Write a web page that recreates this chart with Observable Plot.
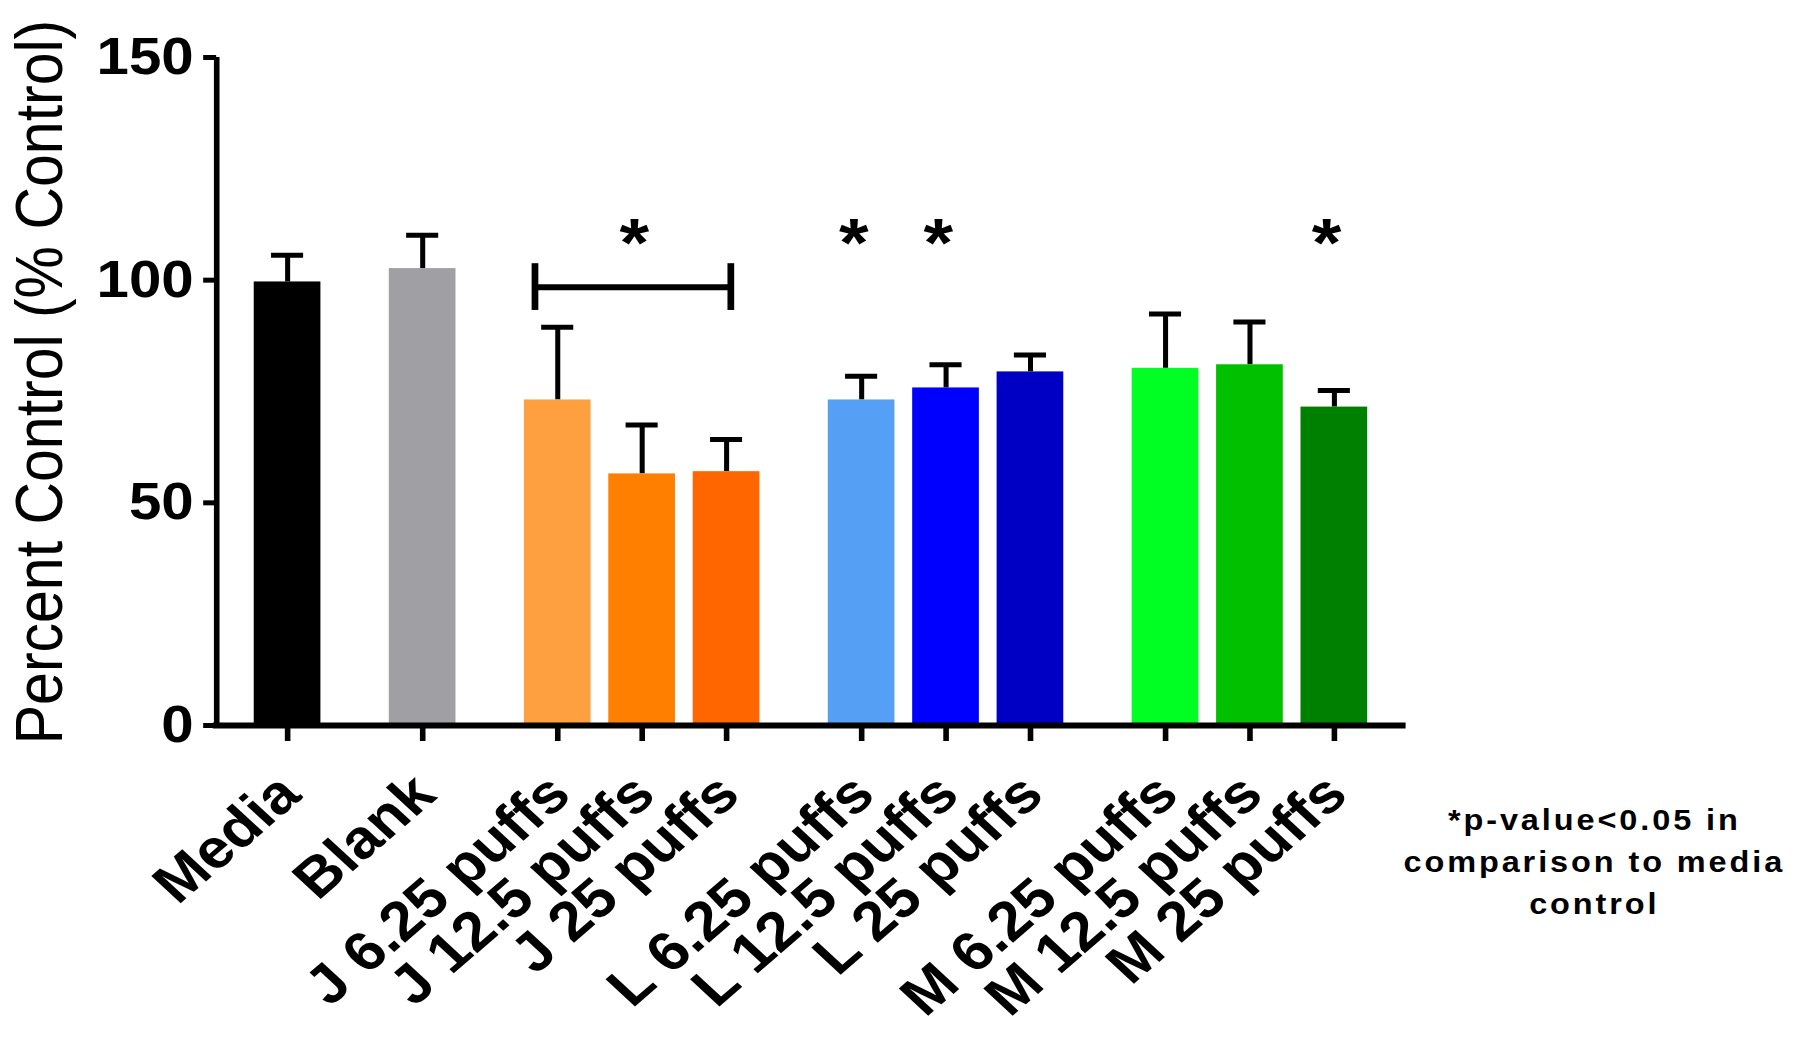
<!DOCTYPE html>
<html><head><meta charset="utf-8">
<script src="https://cdn.jsdelivr.net/npm/d3@7"></script>
<script src="https://cdn.jsdelivr.net/npm/@observablehq/plot@0.6"></script>
<style>
html,body{margin:0;padding:0;background:#fff;overflow:hidden}
#chart svg{transform:scaleX(1.12);transform-origin:0 0;display:block}
</style></head><body><div id="chart"></div>
<script>
// ---- data ----
const categories = ["Media","Blank","J 6.25 puffs","J 12.5 puffs","J 25 puffs","L 6.25 puffs","L 12.5 puffs","L 25 puffs","M 6.25 puffs","M 12.5 puffs","M 25 puffs"];
const groups = ["Media","Blank","J","J","J","L","L","L","M","M","M"];
const means = [99.6, 102.6, 73.1, 56.5, 57.0, 73.1, 75.8, 79.4, 80.2, 81.0, 71.5];
const errors = [6.0, 7.5, 16.3, 11.0, 7.2, 5.3, 5.2, 3.8, 12.2, 9.6, 3.7];
const colors = ["#000000","#a0a0a4","#ffa040","#ff8000","#ff6600","#559ff5","#0000ff","#0000c4","#00ff22","#00c000","#008000"];
const yTicks = [0, 50, 100, 150];
const starred = ["J 12.5 puffs","L 6.25 puffs","L 12.5 puffs","M 25 puffs"];
const bracketFrom = "J 6.25 puffs", bracketTo = "J 25 puffs";
const yTitle = "Percent Control (% Control)";
const footnote = "*p-value<0.05 in\ncomparison to media\ncontrol";

// ---- layout ----
const stretch = 1.12;
const W = Math.round(1800 / stretch);
const data = categories.map((c, i) => ({label: c, group: groups[i], mean: means[i], err: errors[i], color: colors[i]}));
let p = 0;
data.forEach((d, i) => { if (i > 0) p += groups[i] === groups[i - 1] ? 1 : 1.6; d.pos = p; });
const posOf = c => data.find(d => d.label === c).pos;
const half = 0.395, capHalf = 0.19;
const xDomain = [data[0].pos - 0.84, data[data.length - 1].pos + 0.85];
const sigLevel = 108, bracketLevel = 98.4, bracketLo = 93.2, bracketHi = 103.7;
const bracket = [{x1: posOf(bracketFrom) - 0.27, x2: posOf(bracketTo) + 0.05}];
const stars = starred.map(c => ({pos: posOf(c)}));

const chart = Plot.plot({
  width: W, height: 1050,
  marginLeft: 193, marginRight: W - 1255, marginTop: 57, marginBottom: 325,
  x: {domain: xDomain, label: null},
  y: {domain: [0, 150], label: null},
  color: {type: "identity"},
  style: {fontFamily: "'Liberation Sans', Arial, sans-serif", background: "white", color: "black", overflow: "visible"},
  marks: [
    Plot.ruleX(data, {x: "pos", y1: "mean", y2: d => d.mean + d.err, strokeWidth: 4.5}),
    Plot.ruleY(data, {x1: d => d.pos - capHalf, x2: d => d.pos + capHalf, y: d => d.mean + d.err, strokeWidth: 5}),
    Plot.rectY(data, {x1: d => d.pos - half, x2: d => d.pos + half, y1: 0, y2: "mean", fill: "color"}),
    Plot.axisY({ticks: yTicks, tickSize: 11.6, tickPadding: 9, fontSize: 52, fontWeight: "bold", strokeWidth: 5, label: null}),
    Plot.axisX({ticks: data.map(d => d.pos), tickSize: 16, strokeWidth: 5, tickFormat: () => "", label: null}),
    Plot.ruleY([0], {strokeWidth: 6, insetLeft: -3}),
    Plot.ruleX([xDomain[0]], {y1: 0, y2: 150, strokeWidth: 5}),
    Plot.ruleY(bracket, {x1: "x1", x2: "x2", y: bracketLevel, strokeWidth: 6}),
    Plot.ruleX(bracket, {x: "x1", y1: bracketLo, y2: bracketHi, strokeWidth: 6}),
    Plot.ruleX(bracket, {x: "x2", y1: bracketLo, y2: bracketHi, strokeWidth: 6}),
    Plot.text(stars, {x: "pos", y: sigLevel, text: () => "*", fontSize: 68, fontWeight: "bold", dx: -7}),
    Plot.text(data, {x: "pos", frameAnchor: "bottom", text: "label", rotate: -44, textAnchor: "end", lineAnchor: "bottom", dx: 14, dy: 72, fontSize: 55, fontWeight: "bold"}),
    Plot.text([yTitle], {text: d => d, frameAnchor: "left", textAnchor: "middle", rotate: -90, dx: -157, dy: -9.5, fontSize: 59}),
    Plot.text([footnote], {text: d => d, frameAnchor: "bottom-right", textAnchor: "middle", lineAnchor: "middle", dx: 168, dy: 133, fontSize: 29, fontWeight: "bold", lineHeight: 1.45})
  ]
});
d3.select(chart).selectAll("text")
  .filter(function() { return this.textContent.includes("comparison"); })
  .style("letter-spacing", "2.6px");
document.getElementById("chart").appendChild(chart);
</script></body></html>
